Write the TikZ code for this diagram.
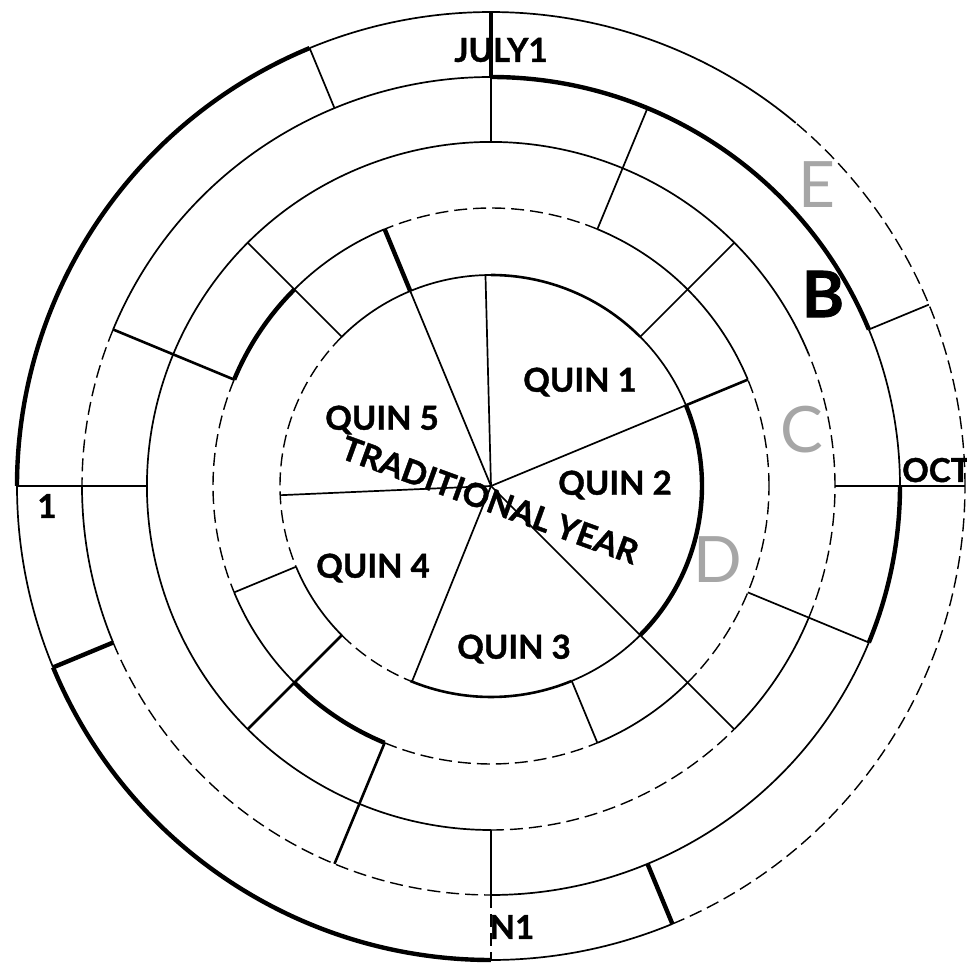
\documentclass[tikz,border=0pt]{standalone}
\usepackage{fontspec}
\setmainfont{Lato}[BoldFeatures={FakeBold=1.2}]
\begin{document}
\begin{tikzpicture}[x=1pt,y=1pt,
  ln/.style={line width=1.7pt},
  md/.style={line width=2.6pt},
  hv/.style={line width=4.4pt},
  br/.style={line width=1.4pt,dash pattern=on 13pt off 6pt},
  lbl/.style={font=\fontsize{33}{36}\selectfont\bfseries,inner sep=0pt},
  ltr/.style={font=\fontsize{64}{66}\selectfont,inner sep=0pt,text=black!35}]
\useasboundingbox (-491,-478) rectangle (476,486);
\def\rA{211}\def\rB{278}\def\rC{344}\def\rD{409}\def\rE{474}
% ring arcs, piece by piece
\foreach \r/\a/\b/\s in {\rE/0/50/br,\rE/50/112.5/ln,\rE/112.5/180/hv,\rE/180/202.5/ln,
    \rE/202.5/270/hv,\rE/270/292.5/ln,\rE/292.5/360/br,
    \rD/0/22.5/ln,\rD/22.5/90/hv,\rD/90/157.5/ln,\rD/157.5/180/br,\rD/180/202.5/ln,
    \rD/202.5/270/br,\rD/270/337.5/ln,\rD/337.5/360/hv,
    \rC/0/22.5/br,\rC/22.5/270/ln,\rC/270/315/br,\rC/315/337.5/ln,\rC/337.5/360/br,
    \rB/0/22.5/br,\rB/22.5/67.5/ln,\rB/67.5/112.5/br,\rB/112.5/135/ln,\rB/135/157.5/hv,
    \rB/157.5/202.5/br,\rB/202.5/225/ln,\rB/225/247.5/hv,\rB/247.5/292.5/br,
    \rB/292.5/315/ln,\rB/315/360/br,
    \rA/0/22.5/hv,\rA/22.5/45/ln,\rA/45/90/md,\rA/90/135/ln,\rA/135/202.5/br,
    \rA/202.5/225/ln,\rA/225/247.5/br,\rA/247.5/292.5/md,\rA/292.5/315/ln,\rA/315/360/hv}
  \draw[\s] (\a:\r) arc[start angle=\a,end angle=\b,radius=\r];
% spokes
\foreach \a/\p/\q/\s in {0/\rC/\rE/ln,90/\rD/\rE/hv,90/\rC/\rD/ln,180/\rC/\rE/md,
    270/\rC/\rD/ln,270/\rD/\rE/br,
    22.5/0/\rA/ln,22.5/\rA/\rB/md,22.5/\rD/\rE/ln,
    45/\rA/\rC/ln,67.5/\rB/\rD/ln,91.5/0/\rA/ln,
    112.5/0/\rA/ln,112.5/\rA/\rB/hv,112.5/\rD/\rE/ln,
    135/\rA/\rC/ln,157.5/\rB/\rD/md,182.5/0/\rA/ln,
    202.5/\rA/\rB/ln,202.5/\rD/\rE/hv,
    225/\rA/\rC/md,247.5/\rB/\rD/md,248/0/\rA/ln,
    292.5/\rA/\rB/ln,292.5/\rD/\rE/hv,
    315/0/\rC/ln,337.5/\rB/\rD/ln}
  \draw[\s] (\a:\p) -- (\a:\q);
% months
\node[lbl] (july) at (10,436) {JULY1};
\node[lbl,anchor=base west] (oct) at (411,4) {OCT};
\node[lbl] (apr) at (-444,-20) {1};
\node[lbl] (jan) at (21,-441) {N1};
% quins
\node[lbl] (q1) at (89,104) {QUIN 1};
\node[lbl] (q2) at (124,1) {QUIN 2};
\node[lbl] (q3) at (23,-163) {QUIN 3};
\node[lbl] (q4) at (-118,-82) {QUIN 4};
\node[lbl] (q5) at (-109,66) {QUIN 5};
\node[lbl,rotate=-20] (trad) at (-1,-14) {TRADITIONAL YEAR};
% ring letters
\node[ltr] (ltrE) at (326,301) {E};
\node[ltr,text=black,font=\fontsize{64}{66}\selectfont\bfseries] (ltrB) at (332,192) {B};
\node[ltr] (ltrC) at (311,56) {C};
\node[ltr] (ltrD) at (227,-74) {D};
\end{tikzpicture}
\end{document}
